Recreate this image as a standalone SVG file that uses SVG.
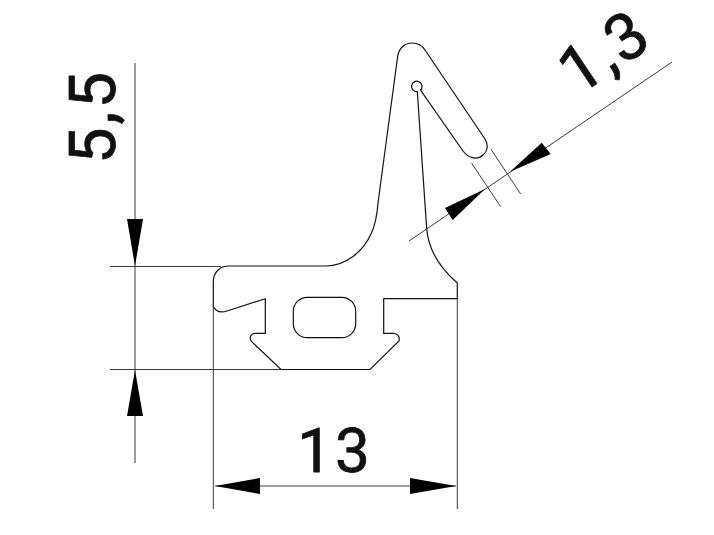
<svg xmlns="http://www.w3.org/2000/svg" width="714" height="535" viewBox="0 0 714 535">
<style>
.p{fill:none;stroke:#111;stroke-width:1.2}
.d{fill:none;stroke:#222;stroke-width:.9}
.a{fill:#000;stroke:none}
.t{font-family:Roboto,"Liberation Sans",Arial,sans-serif;fill:#111;stroke:#111;stroke-width:.8;text-anchor:middle;letter-spacing:3px}
</style>
<rect width="714" height="535" fill="#fff"/>
<g id="profile">
<path class="p" d="M213.3 306.5V282C213.3 272 220 266 229 266H326C345 266 363 252 371 234C375 226 377 216 378 203L397.7 56C399 48 405 43 412 43C418 43 422 45 425 50L485 139C489 146 487 152 483 155C478 160 469 159 463 151L420.5 90A5.2 5.2 0 1 0 417.3 91.5L426.5 226C427.5 248 440 268 457.3 283V298.7H383.7V333.3H393C398 333 400 337 399 341L370 369.5H281L251 341C249 337 251 333.5 255 333.3H265.3V298.7L227 311C221 313 216 312 213.3 306.5Z"/>
<rect class="p" x="293.3" y="297.3" width="62.4" height="40.4" rx="14" ry="14"/>
</g>
<g id="connectors">
<path class="d" d="M110 266.5H221M110 369.5H281M135 63V463M213.3 306V509M457.3 298V509M215 486H456M409 241L672 62M471.7 163.3L500.7 206.7M491 149.3L520.7 194"/>
<path class="a" d="M135 266L127 219H143ZM135 370L127 416H143ZM215 486L260 478V494ZM456 486L410 478V494ZM485 189L445 208L452.7 220ZM510 171.7L541.7 142.7L550.7 154Z"/>
</g>
<g id="labels">
<text class="t" x="335" y="472" font-size="62">13</text>
<text class="t" font-size="65" transform="translate(114.5 116.5) rotate(-90)">5,5</text>
<text class="t" font-size="65" transform="translate(617 70) rotate(-34)">1,3</text>
</g>
</svg>
